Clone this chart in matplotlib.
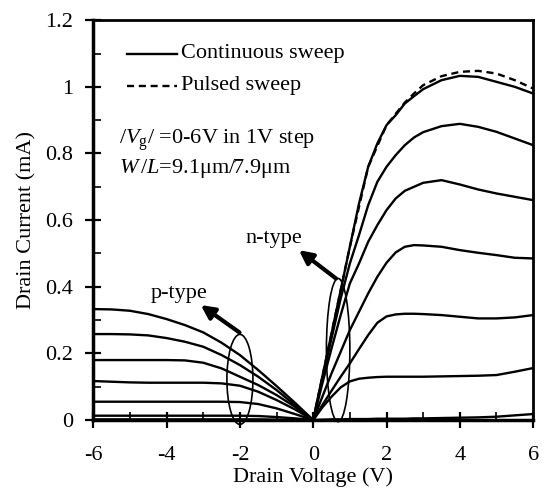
import numpy as np
import matplotlib
matplotlib.use('Agg')
import matplotlib.pyplot as plt
from matplotlib.patches import Ellipse
from matplotlib.ticker import MultipleLocator, FormatStrFormatter

plt.rcParams['font.family'] = ['Liberation Serif', 'DejaVu Serif']
plt.rcParams['mathtext.fontset'] = 'custom'
plt.rcParams['mathtext.rm'] = 'Liberation Serif'
plt.rcParams['mathtext.it'] = 'Liberation Serif:italic'
plt.rcParams['axes.unicode_minus'] = False

# n-type output curves, Vg = 0..6 V (drain voltage, drain current in mA)
vd_n = [0, 0.25, 0.5, 0.75, 1, 1.25, 1.5, 1.75, 2, 2.25, 2.5, 2.75, 3, 3.5, 4, 4.5, 5, 5.5, 6]
id_n = {
    6: [0, 0.13, 0.26, 0.39, 0.52, 0.65, 0.76, 0.83, 0.885, 0.915, 0.95, 0.972, 0.993, 1.02, 1.033, 1.03, 1.015, 1.0, 0.98],
    5: [0, 0.125, 0.245, 0.365, 0.47, 0.555, 0.645, 0.715, 0.76, 0.795, 0.825, 0.848, 0.864, 0.882, 0.889, 0.88, 0.865, 0.845, 0.825],
    4: [0, 0.11, 0.215, 0.315, 0.41, 0.47, 0.535, 0.585, 0.63, 0.665, 0.688, 0.70, 0.712, 0.72, 0.707, 0.692, 0.68, 0.67, 0.66],
    3: [0, 0.07, 0.14, 0.205, 0.27, 0.325, 0.38, 0.43, 0.472, 0.503, 0.52, 0.525, 0.524, 0.52, 0.51, 0.502, 0.495, 0.487, 0.485],
    2: [0, 0.045, 0.088, 0.13, 0.17, 0.213, 0.255, 0.292, 0.311, 0.317, 0.319, 0.319, 0.318, 0.315, 0.31, 0.305, 0.305, 0.308, 0.315],
    1: [0, 0.038, 0.07, 0.098, 0.116, 0.124, 0.127, 0.129, 0.13, 0.13, 0.13, 0.13, 0.13, 0.131, 0.132, 0.133, 0.135, 0.145, 0.156],
    0: [0, 0.001, 0.002, 0.002, 0.003, 0.003, 0.003, 0.004, 0.004, 0.004, 0.004, 0.005, 0.005, 0.006, 0.007, 0.008, 0.01, 0.014, 0.018],
}
# pulsed sweep, Vg = 6 V
vd_pulse = [0, 0.5, 1, 1.5, 2, 2.5, 2.75, 3, 3.5, 4, 4.5, 5, 5.5, 6]
id_pulse = [0, 0.26, 0.52, 0.76, 0.885, 0.953, 0.98, 1.005, 1.032, 1.045, 1.048, 1.04, 1.02, 0.995]

# p-type output curves, |Vg| = 0..6 V
vd_p = [-6, -5.5, -5, -4.5, -4, -3.5, -3, -2.5, -2, -1.5, -1, -0.5, 0]
id_p = {
    6: [0.333, 0.332, 0.328, 0.318, 0.303, 0.285, 0.263, 0.232, 0.195, 0.15, 0.102, 0.052, 0],
    5: [0.258, 0.258, 0.257, 0.254, 0.246, 0.235, 0.22, 0.195, 0.165, 0.13, 0.09, 0.045, 0],
    4: [0.18, 0.18, 0.18, 0.18, 0.18, 0.179, 0.172, 0.155, 0.13, 0.105, 0.075, 0.04, 0],
    3: [0.117, 0.115, 0.113, 0.112, 0.112, 0.112, 0.112, 0.11, 0.103, 0.085, 0.06, 0.032, 0],
    2: [0.055, 0.055, 0.055, 0.055, 0.055, 0.055, 0.055, 0.055, 0.054, 0.048, 0.035, 0.018, 0],
    1: [0.013, 0.013, 0.013, 0.013, 0.013, 0.013, 0.013, 0.013, 0.013, 0.012, 0.009, 0.005, 0],
    0: [0.002, 0.002, 0.002, 0.002, 0.002, 0.002, 0.002, 0.002, 0.002, 0.002, 0.001, 0.001, 0],
}

fs = 16
lw = 1.7
fig = plt.figure(figsize=(5.44, 4.93), dpi=100)
ax = fig.add_axes([0.1715, 0.148, 0.8085, 0.811])

for vg in id_n:
    ax.plot(vd_n, id_n[vg], 'k-', lw=lw)
for vg in id_p:
    ax.plot(vd_p, id_p[vg], 'k-', lw=lw)
ax.plot(vd_pulse, id_pulse, 'k--', lw=lw, dashes=(3, 2))

ax.set_xlim(-6, 6)
ax.set_ylim(0, 1.2)
ax.xaxis.set_major_locator(MultipleLocator(2))
ax.xaxis.set_minor_locator(MultipleLocator(1))
ax.yaxis.set_major_locator(MultipleLocator(0.2))
ax.yaxis.set_minor_locator(MultipleLocator(0.1))
ax.xaxis.set_major_formatter(FormatStrFormatter('%g'))
ax.yaxis.set_major_formatter(FormatStrFormatter('%g'))
ax.tick_params(which='major', direction='inout', length=11, width=1.6, labelsize=fs)
ax.tick_params(which='minor', direction='in', length=6, width=1.2)
ax.tick_params(axis='x', which='major', pad=13)
ax.tick_params(axis='y', which='major', pad=9)
for s in ax.spines.values():
    s.set_linewidth(2)
ax.spines['left'].set_linewidth(2.5)
ax.spines['bottom'].set_linewidth(2.5)

ax.set_xlabel('Drain Voltage (V)', fontsize=fs, labelpad=2)
ax.set_ylabel('Drain Current (mA)', fontsize=fs, labelpad=6)

# legend drawn by hand
ax.plot([-5.08, -3.72], [1.1, 1.1], 'k-', lw=lw)
ax.text(-3.62, 1.1, 'Continuous sweep', fontsize=fs, va='center')
ax.plot([-5.08, -3.72], [1.004, 1.004], 'k--', lw=lw, dashes=(3, 2))
ax.text(-3.62, 1.004, 'Pulsed sweep', fontsize=fs, va='center')

ax.text(-5.3, 0.84, r'$/V_{\rm g}/$ =0-6V in 1V step', fontsize=fs, va='center')
ax.text(-5.3, 0.755, r'$W\,/L$=9.1μm/7.9μm', fontsize=fs, va='center')

# ellipses and arrows
ax.add_patch(Ellipse((-2.0, 0.122), 0.71, 0.27, fill=False, lw=1.2, clip_on=False))
ax.add_patch(Ellipse((0.68, 0.21), 0.64, 0.43, fill=False, lw=1.2, clip_on=False))
ax.annotate('', xy=(-3.13, 0.35), xytext=(-1.95, 0.258),
            arrowprops=dict(arrowstyle='-|>', lw=3, color='k', mutation_scale=20))
ax.annotate('', xy=(-0.45, 0.515), xytext=(0.68, 0.42),
            arrowprops=dict(arrowstyle='-|>', lw=3, color='k', mutation_scale=20))
ax.text(-3.66, 0.38, 'p-type', fontsize=fs, ha='center', va='center')
ax.text(-1.06, 0.545, 'n-type', fontsize=fs, ha='center', va='center')

fig.savefig('out.png', dpi=100)
